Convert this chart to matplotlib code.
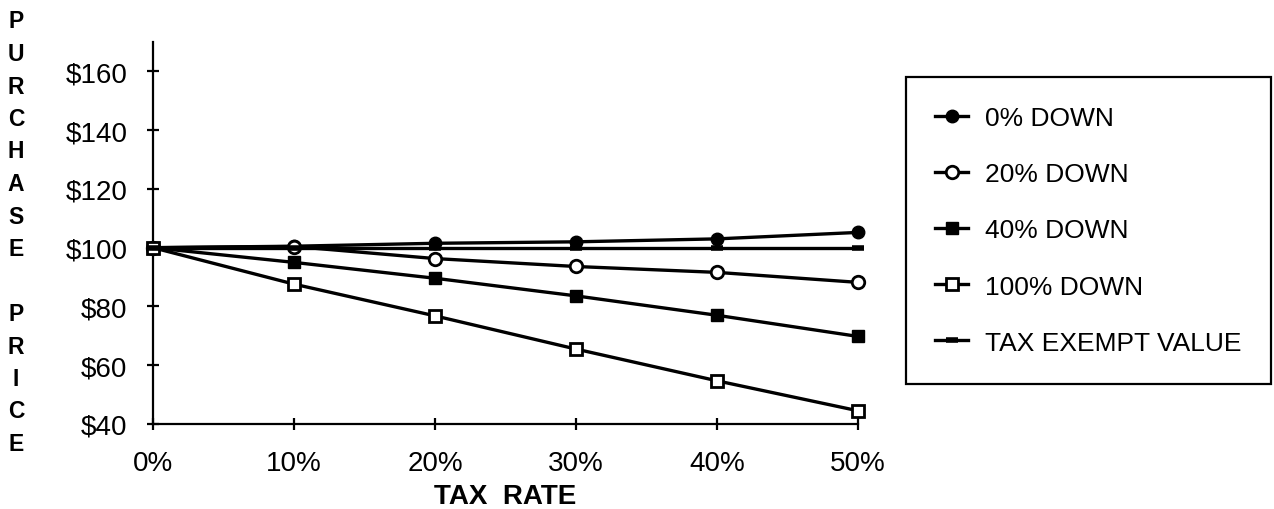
import matplotlib
matplotlib.use("Agg")
import matplotlib.pyplot as plt

plt.rcParams['font.family'] = ['Liberation Sans', 'DejaVu Sans']

# ---- data ----
tax_rates = [0, 10, 20, 30, 40, 50]
x_tick_labels = ["0%", "10%", "20%", "30%", "40%", "50%"]
y_ticks = [40, 60, 80, 100, 120, 140, 160]
y_tick_labels = ["$40", "$60", "$80", "$100", "$120", "$140", "$160"]

down_0 = [100, 100.5, 101.5, 102.0, 103.0, 105.2]
down_20 = [100, 100.4, 96.3, 93.6, 91.6, 88.2]
down_40 = [100, 95.0, 89.6, 83.6, 77.0, 69.8]
down_100 = [100, 87.6, 76.8, 65.5, 54.7, 44.5]
tax_exempt = [100, 100, 100, 100, 100, 100]

labels = ["0% DOWN", "20% DOWN", "40% DOWN", "100% DOWN", "TAX EXEMPT VALUE"]

W, H = 1274, 510
fig = plt.figure(figsize=(W / 100, H / 100), dpi=100)
ax = fig.add_axes([153 / W, (H - 425) / H, (858 - 153) / W, (425 - 43) / H])

lw = 2.4
common = dict(color="black", lw=lw, clip_on=False, zorder=3)
ax.plot(tax_rates, down_0, marker="o", ms=9, mfc="black", mec="black", label=labels[0], **common)
ax.plot(tax_rates, down_20, marker="o", ms=9, mfc="white", mec="black", mew=2.0, label=labels[1], **common)
ax.plot(tax_rates, down_40, marker="s", ms=8.5, mfc="black", mec="black", label=labels[2], **common)
ax.plot(tax_rates, down_100, marker="s", ms=8.5, mfc="white", mec="black", mew=2.0, label=labels[3], **common)
ax.plot(tax_rates, tax_exempt, marker="_", ms=9, mew=4, mec="black", label=labels[4], **common)

ax.set_xlim(0, 50)
ax.set_ylim(40, 170)
ax.set_xticks(tax_rates)
ax.set_xticklabels(x_tick_labels)
ax.set_yticks(y_ticks)
ax.set_yticklabels(y_tick_labels)

for s in ["top", "right"]:
    ax.spines[s].set_visible(False)
for s in ["left", "bottom"]:
    ax.spines[s].set_linewidth(1.6)
    ax.spines[s].set_color("black")

ax.tick_params(axis="both", direction="inout", length=9, width=1.6, labelsize=20, colors="black")
ax.tick_params(axis="y", pad=14)
ax.tick_params(axis="x", pad=14)

# x label
fig.text(505.5 / W, 1 - 497 / H, "TAX  RATE", ha="center", va="center",
         fontsize=20, fontweight="bold")

# stacked y label
ylabel = "PURCHASE PRICE"
for i, ch in enumerate(ylabel):
    if ch == " ":
        continue
    fig.text(16 / W, 1 - (22 + i * 32.5) / H, ch, ha="center", va="center",
             fontsize=16.5, fontweight="bold")

leg = fig.legend(loc="upper left",
                 bbox_to_anchor=(906 / W, 1 - 83 / H, (1271 - 906) / W, 0.01),
                 mode="expand", fontsize=19, frameon=True, fancybox=False,
                 edgecolor="black", framealpha=1, borderpad=1.1,
                 labelspacing=1.22, handlelength=1.25, handletextpad=0.65,
                 borderaxespad=0)
leg.get_frame().set_linewidth(1.6)

fig.savefig("out.png", dpi=100)
